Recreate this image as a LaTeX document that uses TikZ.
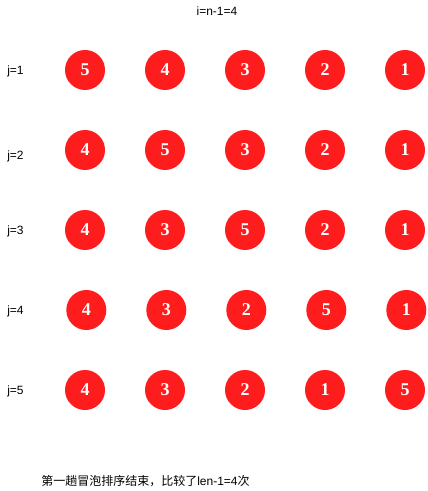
\documentclass[tikz,border=0pt]{standalone}
\usepackage{fontspec}
\setmainfont{Liberation Sans}
\newfontfamily\numfont{Liberation Serif}
\newfontfamily\cjk{Noto Sans CJK SC}
\definecolor{ballred}{RGB}{255,28,28}
\tikzset{
  ball/.style={circle,fill=ballred,minimum size=30pt,inner sep=0pt,
    text=white,font=\numfont\bfseries\fontsize{13.5}{14}\selectfont},
  passlabel/.style={anchor=west,inner sep=0pt,font=\fontsize{9}{10}\selectfont},
}
\begin{document}
\begin{tikzpicture}[x=0.75pt,y=-0.75pt]
\useasboundingbox (0,0) rectangle (427,491);
\node[font=\fontsize{9}{10}\selectfont] (title) at (217,11) {i=n-1=4};
% one row of balls per inner step j
\foreach \row/\dx/\ly/\vals in {1/0/71/{5,4,3,2,1},2/0/156/{4,5,3,2,1},3/0/231/{4,3,5,2,1},4/1.3/311/{4,3,2,5,1},5/0/391/{4,3,2,1,5}}{
  \node[passlabel] (j\row) at (7,\ly) {j=\row};
  \foreach \v [count=\c] in \vals
    \node[ball] (b\row\c) at ({5+80*\c+\dx},{70+80*(\row-1)}) {\v};
}
\node[passlabel] (result) at (41,481) {{\cjk 第一趟冒泡排序结束，比较了}len-1=4{\cjk 次}};
\end{tikzpicture}
\end{document}
